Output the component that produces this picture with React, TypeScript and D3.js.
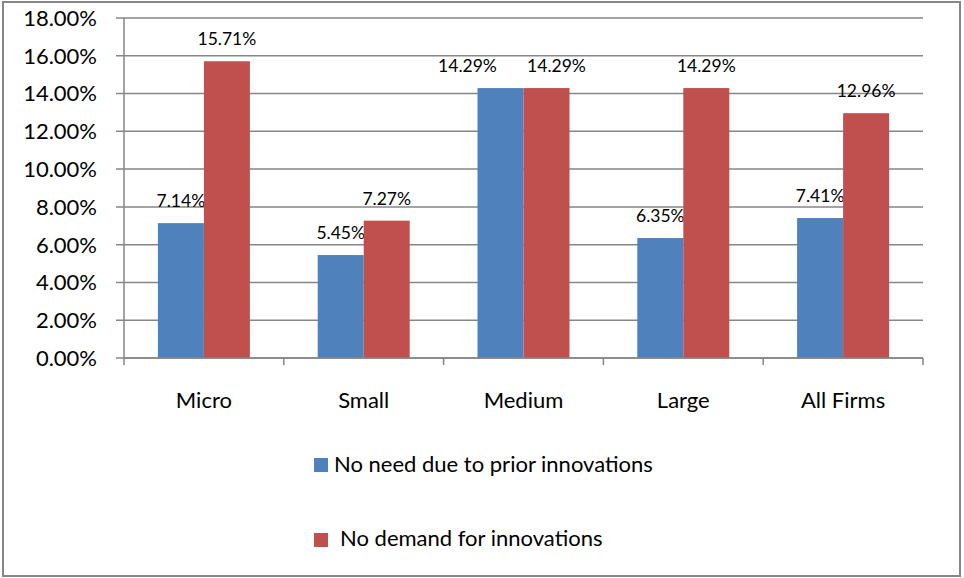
import { scaleBand, scaleLinear, range } from "d3";

const categories = ["Micro", "Small", "Medium", "Large", "All Firms"];
const seriesNames = ["No need due to prior innovations", "No demand for innovations"];
const noNeed = [7.14, 5.45, 14.29, 6.35, 7.41];
const noDemand = [15.71, 7.27, 14.29, 14.29, 12.96];
const yTicks = [0, 2, 4, 6, 8, 10, 12, 14, 16, 18];
const colors = ["#4F81BD", "#C0504D"];

const W = 964;
const H = 578;
const FONT = "Lato, Carlito, 'Open Sans', sans-serif";

const x = scaleBand<string>().domain(categories).range([124, 923]);
const y = scaleLinear().domain([0, 18]).range([358, 18]);
const inner = scaleBand<number>().domain([0, 1]).range([0, 92]);

// labels that sit at the same height get pushed apart, as Excel did
function labelShift(si: number, i: number) {
  if (Math.abs(noNeed[i] - noDemand[i]) < 0.5) return si === 0 ? -33 : 10;
  return 0;
}

function App() {
  const series = [noNeed, noDemand];
  const pad = (x.bandwidth() - 92) / 2;
  return (
    <svg
      width={W}
      height={H}
      style={{ position: "absolute", left: 0, top: 0, background: "#fff" }}
      fontFamily={FONT}
    >
      <rect x={3} y={2} width={957} height={574} fill="#fff" stroke="#868686" strokeWidth={2} />

      {yTicks.map((t) => (
        <g key={t}>
          <line x1={116} x2={923} y1={y(t)} y2={y(t)} stroke="#868686" strokeWidth={1.5} />
          <text x={97} y={y(t)} dy="0.36em" textAnchor="end" fontSize={22} fill="#000">
            {t.toFixed(2)}%
          </text>
        </g>
      ))}

      <line x1={124} x2={124} y1={y(18)} y2={y(0)} stroke="#868686" strokeWidth={1.5} />

      {series.map((vals, si) =>
        vals.map((v, i) => {
          const bx = (x(categories[i]) ?? 0) + pad + (inner(si) ?? 0);
          return (
            <g key={`${si}-${i}`}>
              <rect x={bx} y={y(v)} width={inner.bandwidth()} height={y(0) - y(v)} fill={colors[si]} />
              <text
                x={bx + inner.bandwidth() / 2 + labelShift(si, i)}
                y={y(v) - 16}
                textAnchor="middle"
                fontSize={17.5}
                fill="#000"
              >
                {v.toFixed(2)}%
              </text>
            </g>
          );
        })
      )}

      <line x1={124} x2={923} y1={y(0)} y2={y(0)} stroke="#868686" strokeWidth={1.5} />
      {range(categories.length + 1).map((i) => {
        const tx = 124 + i * x.bandwidth();
        return <line key={i} x1={tx} x2={tx} y1={y(0)} y2={y(0) + 7} stroke="#868686" strokeWidth={1.5} />;
      })}
      {categories.map((c) => (
        <text key={c} x={(x(c) ?? 0) + x.bandwidth() / 2} y={408} textAnchor="middle" fontSize={22} fill="#000">
          {c}
        </text>
      ))}

      {seriesNames.map((name, i) => (
        <g key={name}>
          <rect x={314} y={458 + i * 75} width={14} height={14} fill={colors[i]} />
          <text x={i === 0 ? 334 : 340} y={472 + i * 74} fontSize={22} fill="#000">
            {name}
          </text>
        </g>
      ))}
    </svg>
  );
}

export default App;
